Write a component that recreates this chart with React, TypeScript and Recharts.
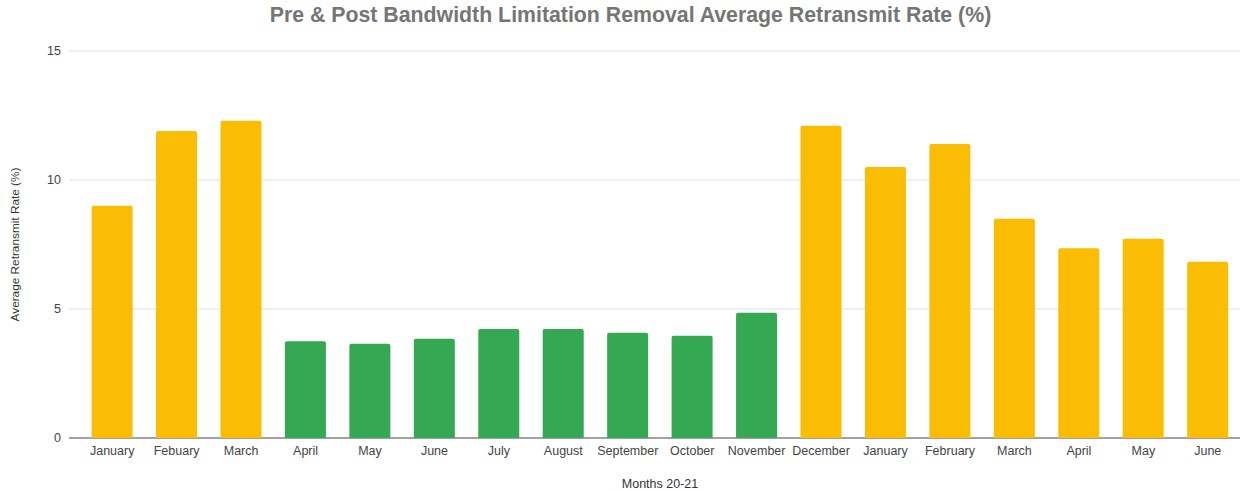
import { BarChart, Bar, Cell, XAxis, YAxis, CartesianGrid } from "recharts";

document.body.style.margin = "0";

const months = [
  "January", "Febuary", "March", "April", "May", "June", "July", "August", "September",
  "October", "November", "December", "January", "February", "March", "April", "May", "June",
];
const retransmitRate = [
  9.0, 11.9, 12.3, 3.75, 3.65, 3.85, 4.22, 4.22, 4.08,
  3.96, 4.85, 12.1, 10.5, 11.4, 8.5, 7.35, 7.72, 6.83,
];
// "pre" = yellow months, "post" = green months
const phase = [
  "pre", "pre", "pre", "post", "post", "post", "post", "post", "post",
  "post", "post", "pre", "pre", "pre", "pre", "pre", "pre", "pre",
];
const yTicks = [0, 5, 10, 15];

const phaseColors: Record<string, string> = { pre: "#FBBC04", post: "#34A853" };

const data = months.map((month, i) => ({ idx: i, month, rate: retransmitRate[i] }));

const font = "'Liberation Sans', Arial, sans-serif";

const App = () => {
  return (
    <div style={{ position: "relative", width: 1241, height: 491, background: "#fff", fontFamily: font }}>
      <div
        style={{
          position: "absolute",
          top: 3,
          left: 10,
          width: 1241,
          textAlign: "center",
          fontSize: 21.3,
          fontWeight: "bold",
          color: "#757575",
        }}
      >
        Pre &amp; Post Bandwidth Limitation Removal Average Retransmit Rate (%)
      </div>
      <BarChart
        width={1241}
        height={491}
        data={data}
        margin={{ top: 51, right: 1, bottom: 0, left: 0 }}
        barCategoryGap="18%"
      >
        <CartesianGrid vertical={false} stroke="#e0e0e0" x={69} width={1171} />
        <XAxis
          dataKey="idx"
          type="category"
          height={53}
          tickFormatter={(i: number) => months[i]}
          tickLine={false}
          tickSize={6}
          tickMargin={2}
          axisLine={false}
          tick={{ fill: "#444", fontSize: 12.5, fontFamily: font }}
          interval={0}
          label={{
            value: "Months 20-21",
            position: "insideBottom",
            offset: 3,
            style: { fill: "#333", fontSize: 12.5, fontFamily: font },
          }}
        />
        <YAxis
          width={80}
          domain={[0, 15]}
          ticks={yTicks}
          axisLine={false}
          tickLine={false}
          tickSize={6}
          tickMargin={13}
          tick={{ fill: "#444", fontSize: 12.5, fontFamily: font }}
          label={{
            value: "Average Retransmit Rate (%)",
            angle: -90,
            position: "insideLeft",
            offset: 15,
            style: { textAnchor: "middle", fill: "#333", fontSize: 11.8, fontFamily: font },
          }}
        />
        <Bar dataKey="rate" radius={[2, 2, 0, 0]} isAnimationActive={false}>
          {data.map((d) => (
            <Cell key={d.idx} fill={phaseColors[phase[d.idx]]} />
          ))}
        </Bar>
        <CartesianGrid vertical={false} horizontalValues={[0]} stroke="#555" x={69} width={1171} />
      </BarChart>
    </div>
  );
};

export default App;
